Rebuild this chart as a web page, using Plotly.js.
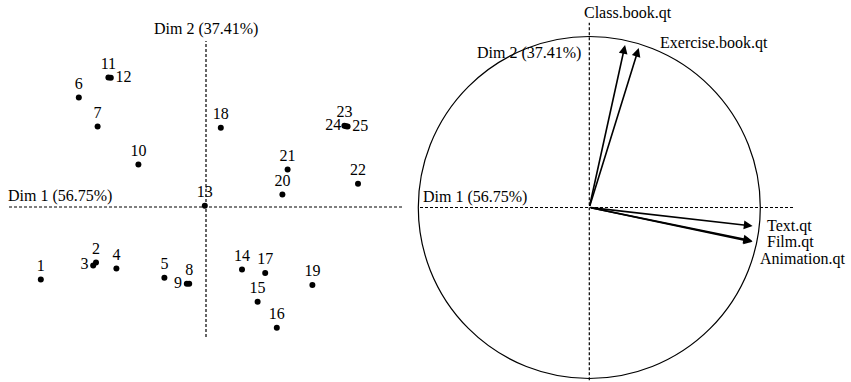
<!DOCTYPE html>
<html>
<head>
<meta charset="utf-8">
<script src="https://cdn.plot.ly/plotly-3.0.1.min.js"></script>
<style>
  html, body { margin: 0; padding: 0; background: #fff; }
  #chart { width: 851px; height: 382px; }
</style>
</head>
<body>
<div id="chart"></div>
<script>
// Individuals factor map: coordinates on Dim 1 and Dim 2
const individuals = ['1','2','3','4','5','6','7','8','9','10','11','12','13',
  '14','15','16','17','18','19','20','21','22','23','24','25'];
const dim1 = [-4.13, -2.75, -2.82, -2.24, -1.04, -3.18, -2.71, -0.42, -0.48, -1.69,
  -2.44, -2.38, -0.03, 0.90, 1.29, 1.77, 1.48, 0.37, 2.66, 1.91, 2.04, 3.80, 3.46, 3.50, 3.54];
const dim2 = [-1.81, -1.39, -1.46, -1.54, -1.77, 2.74, 2.01, -1.92, -1.92, 1.06,
  3.24, 3.23, 0.03, -1.56, -2.37, -3.02, -1.65, 1.98, -1.95, 0.31, 0.94, 0.58, 2.03, 2.02, 2.01];
const labelSide = ['top center','top center','middle left','top center','top center','top center',
  'top center','top center','middle left','top center','top center','middle right','top center',
  'top center','top center','top center','top center','top center','top center','top center',
  'top center','top center','top center','middle left','middle right'];

// Variables factor map: correlations with Dim 1 and Dim 2
const variables = ['Class.book.qt','Exercise.book.qt','Text.qt','Film.qt','Animation.qt'];
const varDim1 = [0.209, 0.289, 0.955, 0.955, 0.952];
const varDim2 = [0.950, 0.933, -0.108, -0.201, -0.195];

const dimLabels = ['Dim 1 (56.75%)', 'Dim 2 (37.41%)'];

const FONT = '"Liberation Serif", "DejaVu Serif", serif';
const W = 851, H = 382;

// Left panel: 40 px per unit, origin at (206, 207)
const L = {ox: 206, oy: 207, s: 40, x0: 0, x1: 410};
// Right panel: unit circle of radius 171 px, centre at (589.3, 207.5)
const R = {ox: 589.3, oy: 207.5, s: 171, x0: 410, x1: 851};

const xr = p => [(p.x0 - p.ox) / p.s, (p.x1 - p.ox) / p.s];
const yr = p => [(p.oy - H) / p.s, p.oy / p.s];

const traces = [
  {
    type: 'scatter', mode: 'markers+text', xaxis: 'x', yaxis: 'y',
    x: dim1, y: dim2, text: individuals, textposition: labelSide,
    marker: {color: '#000', size: 6},
    textfont: {family: FONT, size: 16, color: '#000'},
    cliponaxis: false, hoverinfo: 'text'
  }
];

const dash = {color: '#000', width: 1.2, dash: '3px,2px'};
const shapes = [
  // left panel axes through the origin
  {type: 'line', xref: 'x', yref: 'y', x0: -4.925, x1: 4.95, y0: 0, y1: 0, line: dash, layer: 'below'},
  {type: 'line', xref: 'x', yref: 'y', x0: 0, x1: 0, y0: -3.25, y1: 4.15, line: dash, layer: 'below'},
  // right panel correlation circle and axes
  {type: 'circle', xref: 'x2', yref: 'y2', x0: -1, x1: 1, y0: -1, y1: 1, line: {color: '#000', width: 1.2}},
  {type: 'line', xref: 'x2', yref: 'y2', x0: -0.99, x1: 1.203, y0: 0, y1: 0, line: dash},
  {type: 'line', xref: 'x2', yref: 'y2', x0: 0, x1: 0, y0: -1.01, y1: 1.081, line: dash}
];

const annotations = [];
// arrows for each variable
variables.forEach((v, i) => {
  annotations.push({
    xref: 'x2', yref: 'y2', axref: 'x2', ayref: 'y2',
    x: varDim1[i], y: varDim2[i], ax: 0, ay: 0, text: '',
    showarrow: true, arrowhead: 2, arrowsize: 1.1, arrowwidth: 1.6, arrowcolor: '#000'
  });
});
// variable names
const varLabelPos = [
  {x: 0.226, y: 1.137, xanchor: 'center'},
  {x: 0.400, y: 0.962, xanchor: 'left'},
  {x: 1.025, y: -0.110, xanchor: 'left'},
  {x: 1.030, y: -0.202, xanchor: 'left'},
  {x: 0.985, y: -0.300, xanchor: 'left'}
];
variables.forEach((v, i) => {
  annotations.push({
    xref: 'x2', yref: 'y2', x: varLabelPos[i].x, y: varLabelPos[i].y,
    xanchor: varLabelPos[i].xanchor, yanchor: 'middle', text: v, showarrow: false,
    font: {family: FONT, size: 16, color: '#000'}
  });
});
// axis captions
const cap = (xref, yref, x, y, xa, t) => ({xref, yref, x, y, xanchor: xa, yanchor: 'middle',
  text: t, showarrow: false, font: {family: FONT, size: 16, color: '#000'}});
annotations.push(cap('x', 'y', -5.0, 0.28, 'left', dimLabels[0]));
annotations.push(cap('x', 'y', 0.0, 4.45, 'center', dimLabels[1]));
annotations.push(cap('x2', 'y2', -0.985, 0.063, 'left', dimLabels[0]));
annotations.push(cap('x2', 'y2', -0.035, 0.905, 'right', dimLabels[1]));

const hidden = {visible: false, showgrid: false, zeroline: false, fixedrange: true};
const layout = {
  width: W, height: H,
  margin: {l: 0, r: 0, t: 0, b: 0},
  paper_bgcolor: '#fff', plot_bgcolor: 'rgba(0,0,0,0)',
  showlegend: false,
  xaxis: Object.assign({domain: [L.x0 / W, L.x1 / W], range: xr(L)}, hidden),
  yaxis: Object.assign({domain: [0, 1], range: yr(L)}, hidden),
  xaxis2: Object.assign({domain: [R.x0 / W, R.x1 / W], range: xr(R), anchor: 'y2'}, hidden),
  yaxis2: Object.assign({domain: [0, 1], range: yr(R), anchor: 'x2'}, hidden),
  shapes, annotations
};

Plotly.newPlot('chart', traces, layout, {displayModeBar: false, staticPlot: true});
</script>
</body>
</html>
